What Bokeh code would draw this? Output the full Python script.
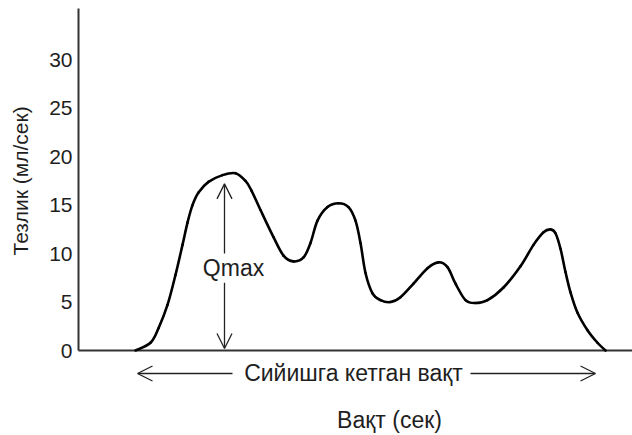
import math
from bokeh.plotting import figure
from bokeh.models import Range1d, Arrow, OpenHead, Label
from bokeh.core.properties import value
from bokeh.embed import file_html
from bokeh.resources import INLINE

# Uroflowmetry curve: flow rate (ml/s) against time (s)
time_s = [5.7, 7.2, 8.0, 8.9, 9.7, 10.4, 10.9, 11.4, 12.0, 13.0, 14.4, 15.7,
          16.7, 17.3, 18.2, 19.5, 20.5, 21.5, 22.5, 23.2, 23.9, 24.9, 26.0,
          27.0, 27.7, 28.2, 28.7, 29.4, 30.2, 31.2, 32.2, 33.5, 34.9, 36.0,
          36.9, 37.7, 38.7, 39.7, 40.9, 42.5, 44.2, 45.5, 46.5, 47.2, 47.7,
          48.2, 48.7, 49.2, 49.9, 50.9, 51.9, 52.7]
flow_ml_s = [0.0, 0.8, 2.3, 4.7, 7.8, 10.9, 13.2, 15.0, 16.3, 17.4, 18.1, 18.3,
             17.5, 16.5, 14.5, 11.7, 9.8, 9.2, 9.6, 11.1, 13.4, 14.8, 15.2,
             14.8, 13.4, 11.1, 8.0, 5.9, 5.2, 5.0, 5.5, 6.9, 8.5, 9.1,
             8.6, 6.9, 5.2, 4.9, 5.2, 6.5, 8.7, 10.9, 12.2, 12.5, 12.1,
             10.5, 8.1, 6.0, 3.9, 2.1, 0.8, 0.0]
y_ticks = [0, 5, 10, 15, 20, 25, 30]
y_tick_labels = ["0", "5", "10", "15", "20", "25", "30"]

# Qmax marker and voiding-time span
qmax_time = 14.6
qmax_value = 17.2
void_start = 5.9
void_end = 51.7

# axis extents
t_max = 55.4
v_max = 35.3

FONT = "Liberation Sans"
TEXT = "#1e1e1e"
AXIS = "#333333"
ARROW = "#222222"

p = figure(width=632, height=435, output_backend="svg", toolbar_location=None,
           x_range=Range1d(-7.8, 55.4), y_range=Range1d(-8.77, 36.12),
           x_axis_location=None, y_axis_location=None,
           min_border=0, min_border_left=0, min_border_right=0,
           min_border_top=0, min_border_bottom=0)
p.outline_line_color = None
p.grid.visible = False
p.background_fill_color = "white"
p.border_fill_color = "white"

# axis lines
p.segment(x0=[0, 0], y0=[0, 0], x1=[0, t_max], y1=[v_max, 0],
          line_color=AXIS, line_width=2)

# y tick labels
p.text(x=[-0.6] * len(y_ticks), y=y_ticks, text=y_tick_labels,
       text_align="right", text_baseline="middle",
       text_font=value(FONT), text_font_size="21px", text_color=TEXT)

# axis titles
p.text(x=[-5.8], y=[17.5], text=["Тезлик (мл/сек)"], angle=math.pi / 2,
       text_align="center", text_baseline="middle",
       text_font=value(FONT), text_font_size="21px", text_color=TEXT)
p.text(x=[31.1], y=[-7.22], text=["Вақт (сек)"],
       text_align="center", text_baseline="middle",
       text_font=value(FONT), text_font_size="23px", text_color=TEXT)

# flow curve as smooth cubic segments through the readings (Catmull-Rom)
n = len(time_s)
x0, y0, x1, y1, cx0, cy0, cx1, cy1 = [], [], [], [], [], [], [], []
for i in range(n - 1):
    ip = max(i - 1, 0)
    inx = min(i + 2, n - 1)
    x0.append(time_s[i]); y0.append(flow_ml_s[i])
    x1.append(time_s[i + 1]); y1.append(flow_ml_s[i + 1])
    cx0.append(time_s[i] + (time_s[i + 1] - time_s[ip]) / 6)
    cy0.append(flow_ml_s[i] + (flow_ml_s[i + 1] - flow_ml_s[ip]) / 6)
    cx1.append(time_s[i + 1] - (time_s[inx] - time_s[i]) / 6)
    cy1.append(flow_ml_s[i + 1] - (flow_ml_s[inx] - flow_ml_s[i]) / 6)
p.bezier(x0=x0, y0=y0, x1=x1, y1=y1, cx0=cx0, cy0=cy0, cx1=cx1, cy1=cy1,
         line_color="black", line_width=2.6, line_cap="round")

# Qmax double arrow with label in the gap
head = dict(size=15, line_color=ARROW, line_width=1.3)
p.add_layout(Arrow(x_start=qmax_time, y_start=10.0, x_end=qmax_time, y_end=qmax_value,
                   line_color=ARROW, line_width=1.3, end=OpenHead(**head)))
p.add_layout(Arrow(x_start=qmax_time, y_start=7.0, x_end=qmax_time, y_end=0.2,
                   line_color=ARROW, line_width=1.3, end=OpenHead(**head)))
p.add_layout(Label(x=15.5, y=8.5, text="Qmax", text_align="center",
                   text_baseline="middle", text_font=FONT, text_font_size="23px",
                   text_color=TEXT))

# voiding time arrows under the axis
p.add_layout(Arrow(x_start=15.4, y_start=-2.37, x_end=void_start, y_end=-2.37,
                   line_color=ARROW, line_width=1.3, end=OpenHead(**head)))
p.add_layout(Arrow(x_start=39.2, y_start=-2.37, x_end=void_end, y_end=-2.37,
                   line_color=ARROW, line_width=1.3, end=OpenHead(**head)))
p.add_layout(Label(x=27.5, y=-2.37, text="Сийишга кетган вақт", text_align="center",
                   text_baseline="middle", text_font=FONT, text_font_size="23px",
                   text_color=TEXT))

open("out.html", "w").write(file_html(p, INLINE))
